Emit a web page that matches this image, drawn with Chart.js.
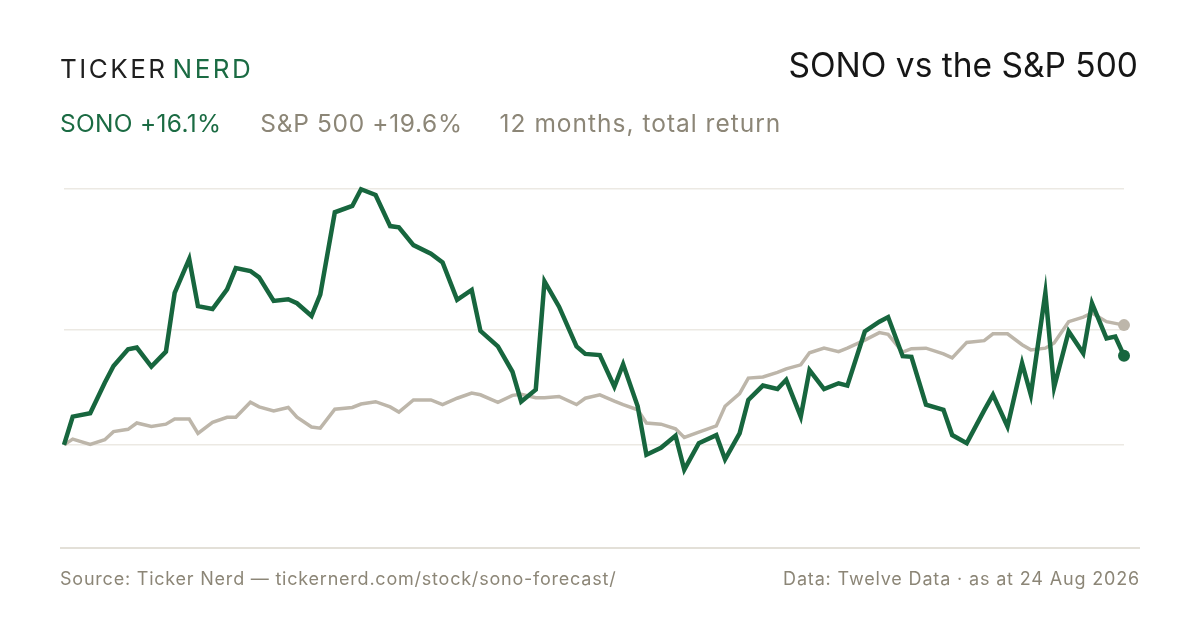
<!DOCTYPE html>
<html>
<head>
<meta charset="utf-8">
<script src="https://cdn.jsdelivr.net/npm/chart.js@4.4.1/dist/chart.umd.min.js"></script>
<style>
  html, body { margin:0; padding:0; background:#ffffff; }
  body { width:1200px; height:630px; position:relative; overflow:hidden; font-family: Inter, "Noto Sans", sans-serif; }
  #c { position:absolute; left:0; top:0; width:1200px; height:630px; }
  .t { position:absolute; white-space:nowrap; line-height:1; }
  #brand { left:60px; top:56px; font-size:26px; letter-spacing:2.5px; color:#1f1f1f; }
  #brand .g { color:#1b6b43; margin-left:5px; }
  #title { right:62px; top:49px; font-size:33.5px; color:#161616; }
  #sub { left:60px; top:111px; font-size:24.5px; color:#8c8677; }
  #sub .s1 { color:#1b6b43; letter-spacing:0.3px; margin-right:39px; }
  #sub .s2 { letter-spacing:0.65px; margin-right:37px; }
  #sub .s3 { letter-spacing:1px; }
  #rule { position:absolute; left:60px; width:1080px; top:547px; height:2px; background:#e3e0d8; }
  .foot { top:570px; font-size:18px; letter-spacing:0.78px; color:#8c8677; }
  #fl { left:60px; }
  #fr { right:60px; letter-spacing:0.84px; }
</style>
</head>
<body>
<canvas id="c" width="1200" height="630"></canvas>
<div class="t" id="brand">TICKER<span class="g">NERD</span></div>
<div class="t" id="title">SONO vs the S&amp;P 500</div>
<div class="t" id="sub"><span class="s1">SONO +16.1%</span><span class="s2">S&amp;P 500 +19.6%</span><span class="s3">12 months, total return</span></div>
<div id="rule"></div>
<div class="t foot" id="fl">Source: Ticker Nerd — tickernerd.com/stock/sono-forecast/</div>
<div class="t foot" id="fr">Data: Twelve Data · as at 24 Aug 2026</div>
<script>
// Sample dates (every 3rd trading day, plus the last day)
const dates = [
  "2025-08-25","2025-08-28","2025-09-03","2025-09-08","2025-09-11","2025-09-16","2025-09-19","2025-09-24","2025-09-29",
  "2025-10-02","2025-10-07","2025-10-10","2025-10-15","2025-10-20","2025-10-23","2025-10-28","2025-10-31",
  "2025-11-05","2025-11-10","2025-11-13","2025-11-18","2025-11-21","2025-11-26",
  "2025-12-02","2025-12-05","2025-12-10","2025-12-15","2025-12-18","2025-12-23","2025-12-29",
  "2026-01-02","2026-01-07","2026-01-12","2026-01-15","2026-01-21","2026-01-26","2026-01-29",
  "2026-02-03","2026-02-06","2026-02-11","2026-02-17","2026-02-20","2026-02-25",
  "2026-03-02","2026-03-05","2026-03-10","2026-03-13","2026-03-18","2026-03-23","2026-03-26","2026-03-31",
  "2026-04-06","2026-04-09","2026-04-14","2026-04-17","2026-04-22","2026-04-27","2026-04-30",
  "2026-05-05","2026-05-08","2026-05-13","2026-05-18","2026-05-21","2026-05-27",
  "2026-06-01","2026-06-04","2026-06-09","2026-06-12","2026-06-17","2026-06-23","2026-06-26",
  "2026-07-01","2026-07-07","2026-07-10","2026-07-15","2026-07-20","2026-07-23","2026-07-28","2026-07-31",
  "2026-08-05","2026-08-10","2026-08-13","2026-08-18","2026-08-21","2026-08-24"
];
// Cumulative return, %
const sonoReturn = [
  0, 4.9, 5.5, 10.8, 13.7, 16.6, 16.9, 13.6, 16.2,
  26.4, 32.3, 24.1, 23.6, 27.0, 30.7, 30.2, 29.1,
  25.0, 25.3, 24.6, 22.4, 26.1, 40.4,
  41.5, 44.4, 43.4, 38.0, 37.8, 34.7, 33.2,
  31.7, 25.2, 26.9, 19.8, 17.1, 12.7, 7.5,
  9.6, 28.4, 24.0, 17.1, 15.8, 15.6,
  10.1, 14.0, 6.7, -1.7, -0.5, 1.6, -4.3, 0.3,
  1.7, -2.5, 2.0, 7.8, 10.3, 9.7, 11.3,
  4.9, 13.0, 9.7, 10.7, 10.3, 19.7,
  21.4, 22.2, 15.4, 15.3, 7.0, 6.1, 1.7,
  0.3, 6.0, 8.7, 3.2, 14.2, 8.7, 26.4, 10.0,
  19.7, 15.9, 24.6, 18.5, 18.8, 15.5
];
const spxReturn = [
  0, 1.0, 0.1, 0.9, 2.3, 2.7, 3.8, 3.2, 3.6,
  4.5, 4.5, 2.0, 3.9, 4.8, 4.8, 7.4, 6.6,
  5.9, 6.5, 4.8, 3.1, 2.9, 6.2,
  6.5, 7.1, 7.5, 6.6, 5.7, 7.8, 7.8,
  7.0, 8.1, 9.0, 8.7, 7.4, 8.6, 8.8,
  8.2, 8.2, 8.4, 7.0, 8.1, 8.7,
  7.6, 7.0, 6.1, 3.8, 3.6, 2.8, 1.3, 2.2,
  3.3, 6.7, 8.9, 11.6, 11.8, 12.6, 13.2,
  13.9, 16.0, 16.8, 16.2, 16.8, 18.2,
  19.5, 19.2, 16.1, 16.7, 16.8, 15.8, 15.1,
  17.8, 18.1, 19.3, 19.3, 17.4, 16.5, 16.8, 17.7,
  21.4, 22.2, 22.9, 21.4, 21.1, 20.8
];
const gridValues = [0, 20, 44.5];

const DAY = 86400000;
const t0 = Date.parse(dates[0] + "T00:00:00Z");
const dayNum = dates.map(d => (Date.parse(d + "T00:00:00Z") - t0) / DAY);
const toPts = arr => arr.map((v, i) => ({ x: dayNum[i], y: v }));
const last = dates.length - 1;

new Chart(document.getElementById('c'), {
  type: 'line',
  data: {
    datasets: [
      {
        label: 'SONO',
        data: toPts(sonoReturn),
        borderColor: '#17663e',
        backgroundColor: '#17663e',
        borderWidth: 4.5,
        pointRadius: ctx => ctx.dataIndex === last ? 6 : 0,
        pointBorderWidth: 0,
        tension: 0,
        clip: false
      },
      {
        label: 'S&P 500',
        data: toPts(spxReturn),
        borderColor: '#bdb6aa',
        backgroundColor: '#bdb6aa',
        borderWidth: 3.5,
        pointRadius: ctx => ctx.dataIndex === last ? 6 : 0,
        pointBorderWidth: 0,
        tension: 0,
        clip: false
      }
    ]
  },
  options: {
    responsive: false,
    animation: false,
    devicePixelRatio: 1,
    layout: { padding: { left: 64, right: 76, top: 157, bottom: 93 } },
    plugins: { legend: { display: false }, tooltip: { enabled: false } },
    scales: {
      x: { type: 'linear', min: 0, max: dayNum[last], display: false },
      y: {
        type: 'linear', min: -16, max: 50,
        afterBuildTicks: axis => { axis.ticks = gridValues.map(v => ({ value: v })); },
        ticks: { display: false },
        border: { display: false },
        grid: { color: '#ece9e3', lineWidth: 1.5, drawTicks: false }
      }
    }
  }
});
</script>
</body>
</html>
